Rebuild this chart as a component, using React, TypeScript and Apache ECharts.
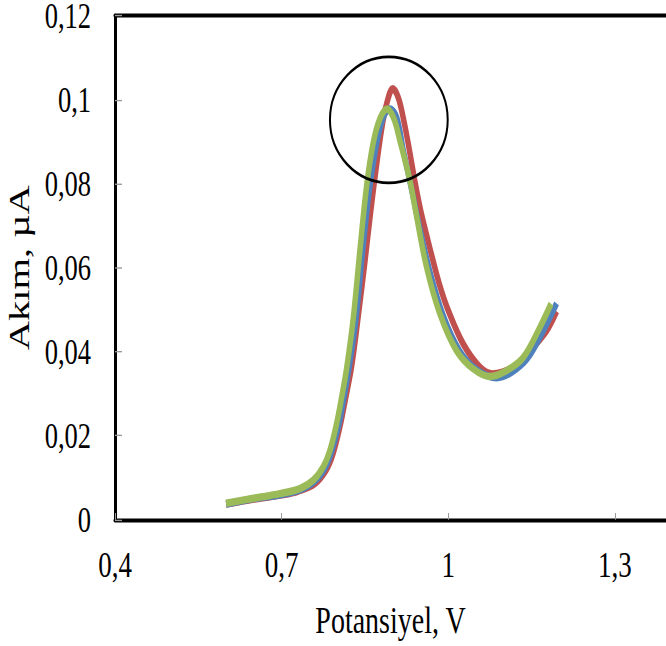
import React, { useEffect, useRef } from "react";
import * as echarts from "echarts";

// The reference picture is stretched vertically; the chart is drawn in a
// shorter box and scaled back to the full height.
const STRETCH = 1.35;
const WIDTH = 666;
const HEIGHT = 646;
const INNER_HEIGHT = HEIGHT / STRETCH;

const xTicks = [0.4, 0.7, 1, 1.3];
const xMin = 0.4;
const xMax = 1.392;
const yMin = 0;
const yMax = 0.12;
const yStep = 0.02;

const xTitle = "Potansiyel, V";
const yTitle = "Akım, µA";

const redPotential = [0.6, 0.65, 0.7, 0.73, 0.76, 0.78, 0.792, 0.805, 0.815, 0.826, 0.838, 0.85, 0.86, 0.87, 0.88, 0.89, 0.9, 0.91, 0.92, 0.93, 0.94, 0.95, 0.96, 0.97, 0.985, 1.0, 1.027, 1.057, 1.08, 1.117, 1.147, 1.177, 1.195];
const redCurrent = [0.0037, 0.0049, 0.0059, 0.0068, 0.0086, 0.0118, 0.0155, 0.0222, 0.0288, 0.0365, 0.0485, 0.0615, 0.073, 0.0835, 0.093, 0.0995, 0.1026, 0.1005, 0.095, 0.088, 0.0805, 0.0738, 0.0683, 0.063, 0.0556, 0.0498, 0.0418, 0.0363, 0.0347, 0.0363, 0.0402, 0.045, 0.0496];

const bluePotential = [0.6, 0.65, 0.7, 0.735, 0.76, 0.779, 0.79, 0.803, 0.812, 0.821, 0.834, 0.846, 0.858, 0.871, 0.883, 0.895, 0.907, 0.919, 0.937, 0.946, 0.967, 0.991, 1.021, 1.051, 1.087, 1.113, 1.143, 1.175, 1.195];
const blueCurrent = [0.0037, 0.005, 0.006, 0.0072, 0.0092, 0.0125, 0.0162, 0.0226, 0.0289, 0.0358, 0.048, 0.0642, 0.0785, 0.0895, 0.0958, 0.0978, 0.0958, 0.0879, 0.0768, 0.071, 0.059, 0.0485, 0.04, 0.0357, 0.0338, 0.035, 0.0385, 0.046, 0.0515];

const greenPotential = [0.6, 0.65, 0.697, 0.733, 0.757, 0.775, 0.787, 0.799, 0.808, 0.817, 0.829, 0.841, 0.853, 0.865, 0.877, 0.89, 0.902, 0.913, 0.931, 0.94, 0.961, 0.985, 1.015, 1.045, 1.075, 1.105, 1.135, 1.165, 1.185];
const greenCurrent = [0.0039, 0.0051, 0.0062, 0.0074, 0.0094, 0.0126, 0.0165, 0.0229, 0.0291, 0.036, 0.048, 0.0642, 0.0795, 0.0898, 0.0955, 0.0978, 0.0955, 0.0902, 0.0807, 0.0744, 0.0601, 0.049, 0.0402, 0.0359, 0.0341, 0.0355, 0.0386, 0.0458, 0.0514];

const seriesColors = ["#C0504D", "#4F81BD", "#9BBB59"];

// annotation ellipse around the peaks (data units)
const circleCenter = [0.893, 0.0952];
const circleRadius = [0.106, 0.015];

const FONT = "'Liberation Serif', 'Times New Roman', serif";

const pairs = (xs: number[], ys: number[]) => xs.map((x, i) => [x, ys[i]]);

const fmt = (v: number) => String(parseFloat(v.toFixed(2))).replace(".", ",");

export default function App() {
  const ref = useRef<HTMLDivElement>(null);
  useEffect(() => {
    if (!ref.current) return;
    const chart = echarts.init(ref.current, null, { renderer: "svg" });
    const seriesData = [
      pairs(redPotential, redCurrent),
      pairs(bluePotential, blueCurrent),
      pairs(greenPotential, greenCurrent),
    ];
    const plotBottom = 519 / STRETCH;
    chart.setOption({
      animation: false,
      backgroundColor: "#ffffff",
      grid: {
        left: 115,
        right: 0,
        top: 15.7 / STRETCH,
        bottom: INNER_HEIGHT - plotBottom,
        containLabel: false,
        outerBoundsMode: "none",
      },
      xAxis: [
        {
          type: "value",
          min: xMin,
          max: xMax,
          name: xTitle,
          nameLocation: "middle",
          nameGap: 60,
          nameTextStyle: { fontFamily: FONT, fontSize: 28, color: "#000" },
          axisLine: { show: true, onZero: false, lineStyle: { color: "#000", width: 3 } },
          axisTick: { show: true, inside: true, length: 5, customValues: xTicks, lineStyle: { color: "#999", width: 1 } },
          axisLabel: { customValues: xTicks, margin: 20, fontFamily: FONT, fontSize: 27, color: "#000", formatter: (v: number) => fmt(v) },
          splitLine: { show: false },
        },
        {
          type: "value",
          position: "top",
          min: xMin,
          max: xMax,
          axisLine: { show: true, onZero: false, lineStyle: { color: "#000", width: 3 } },
          axisTick: { show: false },
          axisLabel: { show: false },
          splitLine: { show: false },
        },
      ],
      yAxis: {
        type: "value",
        min: yMin,
        max: yMax,
        interval: yStep,
        name: yTitle,
        nameLocation: "middle",
        nameGap: 77,
        nameTextStyle: { fontFamily: FONT, fontSize: 30, color: "#000" },
        axisLine: { show: true, onZero: false, lineStyle: { color: "#000", width: 3 } },
        axisTick: { show: true, inside: true, length: 7, lineStyle: { color: "#999", width: 1 } },
        axisLabel: { margin: 24, fontFamily: FONT, fontSize: 26.5, lineHeight: 18, color: "#000", formatter: (v: number) => fmt(v) },
        splitLine: { show: false },
      },
      series: seriesData.map((d, i) => ({
        type: "line",
        data: d,
        smooth: 0.35,
        showSymbol: false,
        symbol: "none",
        lineStyle: { color: seriesColors[i], width: 5.5 },
        itemStyle: { color: seriesColors[i] },
        z: 2 + i,
      })),
    });
    const c = chart.convertToPixel({ xAxisIndex: 0, yAxisIndex: 0 }, circleCenter) as number[];
    const e = chart.convertToPixel({ xAxisIndex: 0, yAxisIndex: 0 }, [circleCenter[0] + circleRadius[0], circleCenter[1] + circleRadius[1]]) as number[];
    chart.setOption({
      graphic: [
        {
          type: "ellipse",
          shape: { cx: c[0], cy: c[1], rx: e[0] - c[0], ry: c[1] - e[1] },
          style: { fill: "none", stroke: "#000", lineWidth: 2 },
          z: 100,
        },
      ],
    });
    return () => chart.dispose();
  }, []);
  return (
    <div style={{ position: "absolute", left: 0, top: 0, width: WIDTH, height: HEIGHT, overflow: "hidden", background: "#fff" }}>
      <div
        ref={ref}
        style={{ width: WIDTH, height: INNER_HEIGHT, transform: `scaleY(${STRETCH})`, transformOrigin: "0 0" }}
      />
    </div>
  );
}
